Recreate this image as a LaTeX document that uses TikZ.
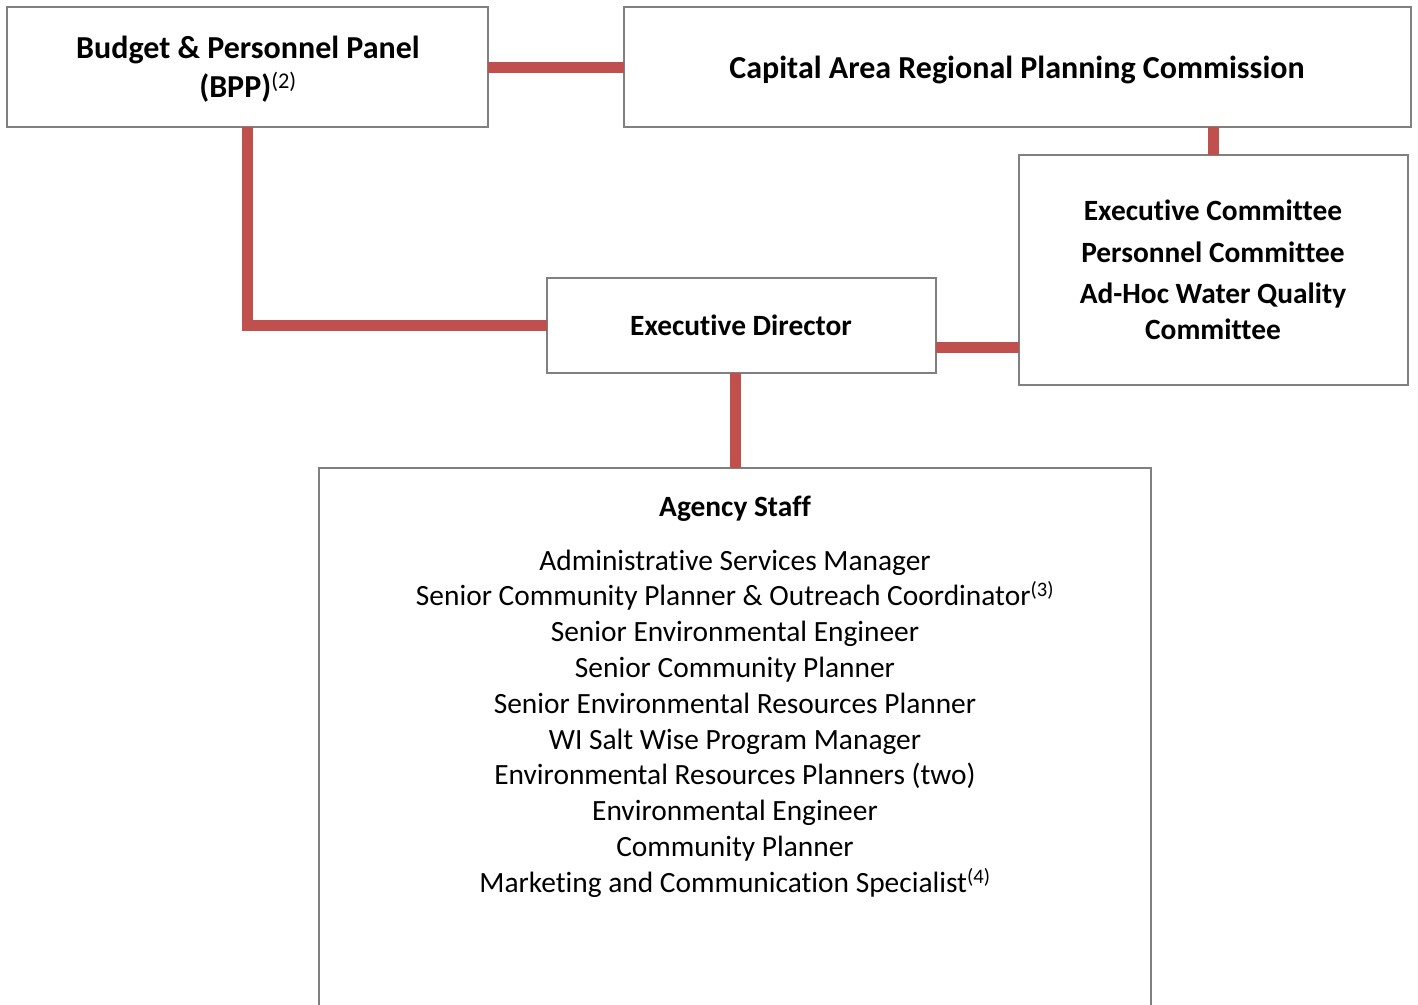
\documentclass[tikz,border=0pt]{standalone}
\usepackage{fontspec}
\setmainfont{Carlito}[Ligatures=CommonOff]
\usetikzlibrary{calc}
\definecolor{linkred}{HTML}{C0504D}
\definecolor{boxgray}{HTML}{808080}
\begin{document}
\begin{tikzpicture}[x=1pt,y=-1pt,
  orgbox/.style={draw=boxgray,line width=2pt,fill=white,inner sep=0pt,outer sep=0pt,rectangle},
  link/.style={draw=linkred,line width=11pt},
  toptext/.style={font=\fontsize{32}{39}\selectfont\bfseries,align=center,inner sep=0pt},
  boldtext/.style={font=\fontsize{29.4}{36}\selectfont\bfseries,align=center,inner sep=0pt},
  plaintext/.style={font=\fontsize{29.4}{35.8}\selectfont,align=center,inner sep=0pt}]
\useasboundingbox (0,0) rectangle (1418,1004);
\clip (0,0) rectangle (1418,1004);

% boxes
\node[orgbox,minimum width=481pt,minimum height=120pt] (bpp) at (247.5,67) {};
\node[orgbox,minimum width=787pt,minimum height=120pt] (carpc) at (1017.5,67) {};
\node[orgbox,minimum width=389pt,minimum height=230pt] (com) at (1213.5,270) {};
\node[orgbox,minimum width=389pt,minimum height=95pt] (dir) at (741.5,325.5) {};
\node[orgbox,minimum width=832pt,minimum height=560pt] (staff) at (735,748) {};

% connectors
\draw[link] (bpp.east) -- (carpc.west);
\draw[link] (bpp.south) |- (dir.west);
\draw[link] (carpc.south -| com.north) -- (com.north);
\draw[link] (dir.east |- 0,347) -- (com.west |- 0,347);
\draw[link] (dir.south -| staff.north) -- (staff.north);

% labels
\node[toptext] (bppt) at (248,69) {Budget \& Personnel Panel\\(BPP)\textsuperscript{\mdseries(2)}};
\node[toptext] (carpct) at (1017,70) {Capital Area Regional Planning Commission};
\node[boldtext] (comt1) at (1213,210) {Executive Committee};
\node[boldtext] (comt2) at (1213,252) {Personnel Committee};
\node[boldtext] (comt3) at (1213,311) {Ad-Hoc Water Quality\\Committee};
\node[boldtext] (dirt) at (741,325) {Executive Director};
\node[boldtext] (stafft) at (735,509) {Agency Staff};
\node[plaintext,anchor=north] (stafflist) at (735,549.5) {%
Administrative Services Manager\\
Senior Community Planner \& Outreach Coordinator\textsuperscript{(3)}\\
Senior Environmental Engineer\\
Senior Community Planner\\
Senior Environmental Resources Planner\\
WI Salt Wise Program Manager\\
Environmental Resources Planners (two)\\
Environmental Engineer\\
Community Planner\\
Marketing and Communication Specialist\textsuperscript{(4)}};
\end{tikzpicture}
\end{document}
